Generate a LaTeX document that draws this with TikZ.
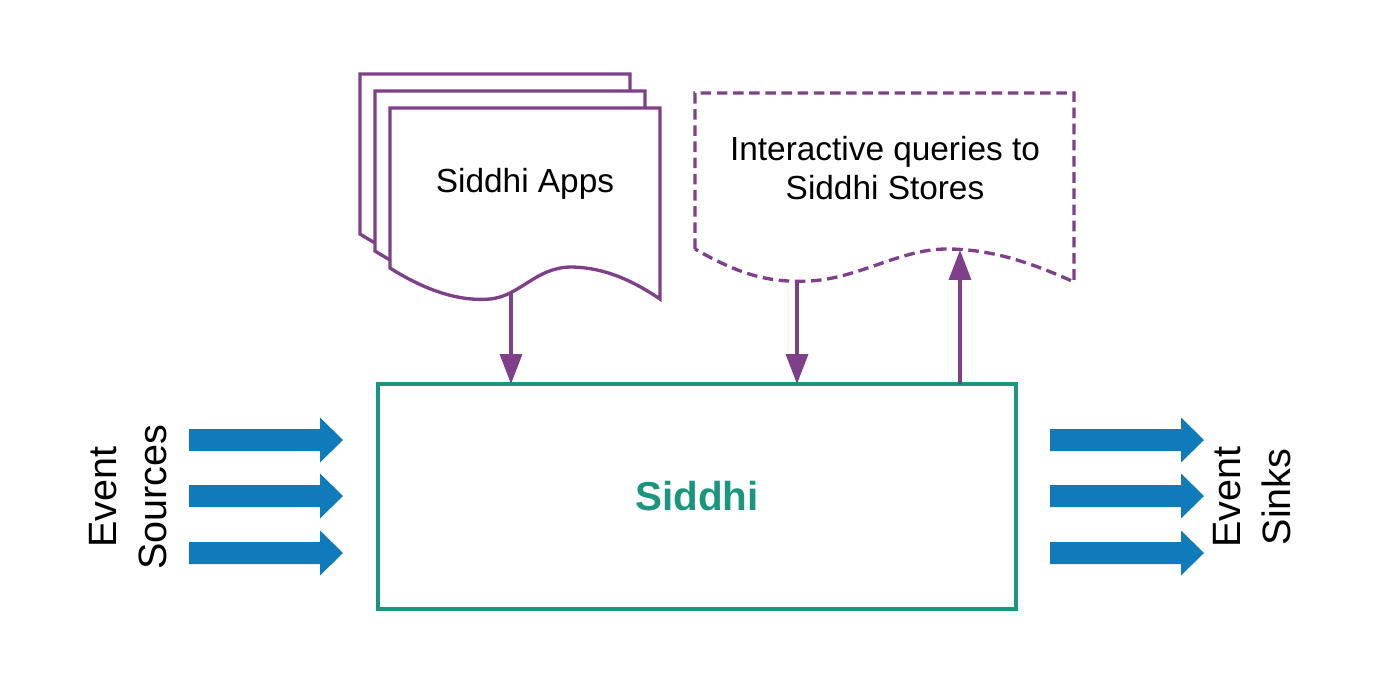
\documentclass[tikz,border=0pt]{standalone}
\usepackage{fontspec}
\setmainfont{Liberation Sans}
\usetikzlibrary{arrows.meta}
\definecolor{appviolet}{HTML}{7E408A}
\definecolor{siddhigreen}{HTML}{1A967E}
\definecolor{eventblue}{HTML}{0F7BBA}
\begin{document}
\begin{tikzpicture}[>={Triangle[length=17pt,width=12.5pt]}, x=0.02cm, y=-0.02cm,
  doc/.style={draw=appviolet, line width=1.9pt, fill=white, line join=miter},
  flow/.style={appviolet, line width=1.9pt, ->},
  lbl/.style={font=\fontsize{19}{22.5}\selectfont, align=center},
  side/.style={font=\fontsize{22.5}{28}\selectfont, align=center, rotate=90}]

\useasboundingbox (0,0) rectangle (1393,684);

% --- layout helpers ---
\def\Lx{189}    % left arrows x
\def\Rx{1050}   % right arrows x

% --- main engine ---
\node (siddhi) [draw=siddhigreen, line width=1.9pt, minimum width=12.76cm, minimum height=4.5cm,
  inner sep=0pt, outer sep=0pt, text=siddhigreen, font=\bfseries\fontsize{23}{27}\selectfont]
  at (697,496.5) {Siddhi};

% --- stacked app documents (back to front) ---
\newcommand{\appdoc}[1]{%
  \draw[doc, shift={(#1)}] (390,108) -- (660,108) -- (660,299)
    .. controls (635,282) and (605,267) .. (570,267)
    .. controls (535,268) and (520,296) .. (490,299)
    .. controls (455,302) and (420,287) .. (390,268) -- cycle;
}
\appdoc{-30,-34}
\appdoc{-15,-17}
\appdoc{0,0}
\node (apps) [lbl] at (525,184) {Siddhi Apps};
\coordinate (appsout) at (511,292);

% --- interactive queries document ---
\draw[doc, dash pattern=on 6pt off 3.2pt] (695,249) -- (695,93) -- (1074,93) -- (1074,282)
  .. controls (1030,262) and (990,249) .. (947,249)
  .. controls (900,249) and (860,278) .. (810,281)
  .. controls (770,283) and (740,275) .. (695,249);
\node (query) [lbl] at (885,168) {Interactive queries to\\Siddhi Stores};
\coordinate (qdown) at (797,281);
\coordinate (qup) at (960,250);

% --- connectors ---
\draw[flow] (appsout) -- (appsout |- siddhi.north);
\draw[flow] (qdown) -- (qdown |- siddhi.north);
\draw[flow] (siddhi.north -| qup) -- (qup);

% --- a small macro for each event arrow: x, y
\newcommand{\evarrow}[2]{%
  \fill[eventblue] (#1,#2+11) -- ++(131,0) -- ++(0,11.5) -- ++(23,-22.5)
    -- ++(-23,-22.5) -- ++(0,11.5) -- ++(-131,0) -- cycle;
}
\foreach \y in {440,496,553} {
  \evarrow{\Lx}{\y}
  \evarrow{\Rx}{\y}
}

% --- side labels ---
\node (sources) [side] at (128,497) {Event\\Sources};
\node (sinks) [side] at (1252,497) {Event\\Sinks};

\end{tikzpicture}
\end{document}
